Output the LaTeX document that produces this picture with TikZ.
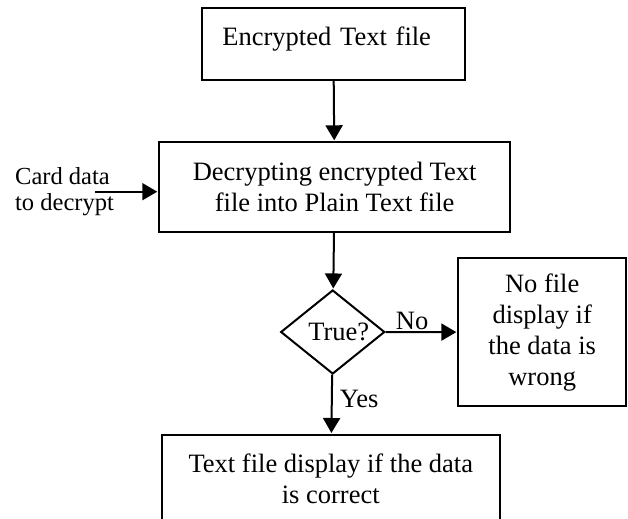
\documentclass[tikz,border=0pt]{standalone}
\usepackage{fontspec}
\setmainfont{Liberation Serif}
\usetikzlibrary{arrows.meta,positioning,shapes.geometric,calc}
\tikzset{
  caja/.style={draw=black,line width=0.1cm,align=center,inner sep=0pt,
               font=\fontsize{37.7}{44}\selectfont},
  rombo/.style={caja,diamond,aspect=1.24,minimum width=5.2cm,minimum height=4.2cm},
  flecha/.style={-{Triangle[length=0.75cm,width=0.85cm]},line width=0.1cm,shorten >=0.05cm},
  et/.style={font=\fontsize{37.7}{44}\selectfont,inner sep=0.05cm},
  etp/.style={font=\fontsize{34.9}{37}\selectfont,inner sep=0pt,align=left},
}
\begin{document}
\begin{tikzpicture}[x=1cm,y=1cm]
\clip (0,0) rectangle (31.4,25.95);

\node[caja,minimum width=13.17cm,minimum height=3.585cm,text width=11.1cm,
      inner xsep=1.03cm,align=left,text height=0.5cm,text depth=0.415cm] (enc) at (16.67,23.74)
  {Encrypted Text file};
\node[caja,minimum width=17.535cm,minimum height=4.47cm] (dec) at (16.73,16.6)
  {Decrypting encrypted Text\\file into Plain Text file};
\node[rombo] (tst) at (16.635,9.35) {\hspace*{0.6cm}True?};
\node[caja,minimum width=8.385cm,minimum height=7.385cm] (nof) at (27.11,9.34)
  {No file\\display if\\the data is\\wrong};
\node[caja,minimum width=16.915cm,minimum height=4.35cm] (dis) at (16.54,2.025)
  {Text file display if the data\\is correct};

\node[etp,anchor=west] (card) at (0.75,16.38) {Card data\\to decrypt};
\coordinate (cin) at (4.75,16.365);

\draw[flecha] (enc) -- (dec);
\draw[flecha] (dec) -- (tst);
\draw[flecha] (tst) -- node[et,above,pos=0.37] {No} (nof);
\draw[flecha] (tst) -- node[et,right=0.3cm,pos=0.41] {Yes} (dis);
\draw[flecha] (cin) -- (cin -| dec.west);

\end{tikzpicture}
\end{document}
